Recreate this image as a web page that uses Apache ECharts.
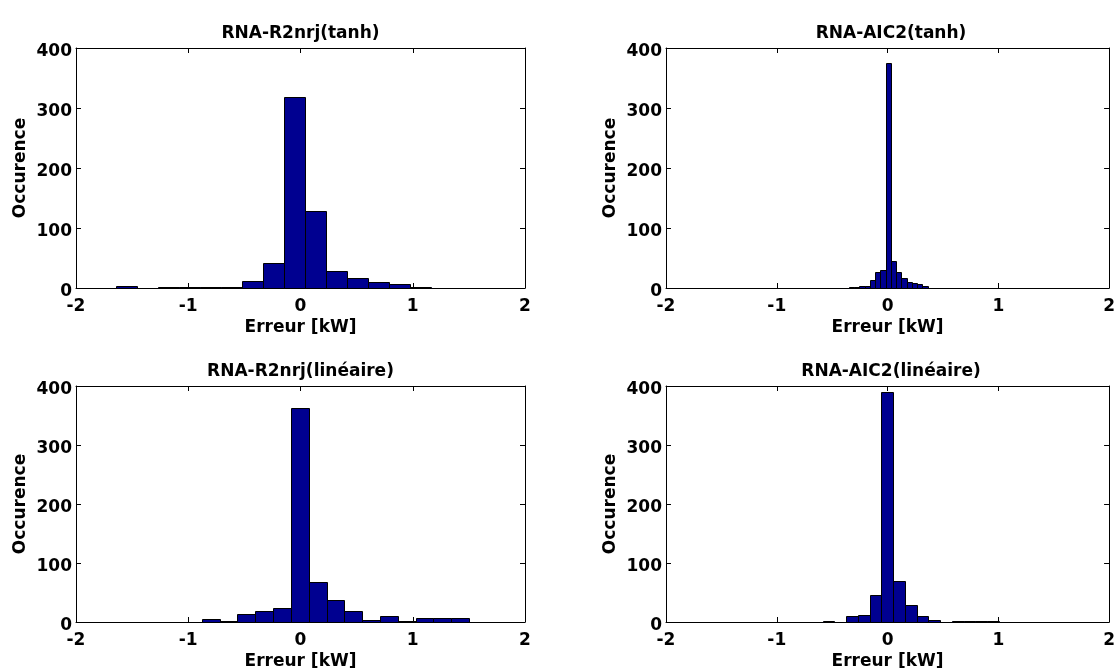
<!DOCTYPE html>
<html>
<head>
<meta charset="utf-8">
<script src="https://cdn.jsdelivr.net/npm/echarts@6/dist/echarts.min.js"></script>
<style>
html,body{margin:0;padding:0;background:#fff;}
#chart{width:1118px;height:671px;}
</style>
</head>
<body>
<div id="chart"></div>
<script>
// Panel titles
const titles = ['RNA-R2nrj(tanh)', 'RNA-AIC2(tanh)', 'RNA-R2nrj(linéaire)', 'RNA-AIC2(linéaire)'];
const xLabel = 'Erreur [kW]';
const yLabel = 'Occurence';
const xTicks = [-2, -1, 0, 1, 2];
const yTicks = [0, 100, 200, 300, 400];

// Histogram bin edges (kW) and counts
const edgesTL = [-1.644, -1.457, -1.270, -1.083, -0.896, -0.709, -0.522, -0.335, -0.148, 0.039, 0.226, 0.413, 0.600, 0.787, 0.974, 1.161];
const countsTL = [4, 0, 1, 1, 1, 2, 12, 42, 318, 128, 29, 17, 10, 7, 2];

const edgesTR = [-0.351, -0.303, -0.256, -0.208, -0.161, -0.113, -0.066, -0.018, 0.029, 0.077, 0.124, 0.172, 0.219, 0.267, 0.314, 0.362];
const countsTR = [2, 2, 4, 4, 14, 27, 30, 375, 45, 26, 16, 10, 8, 6, 4];

const edgesBL = [-0.880, -0.721, -0.562, -0.404, -0.245, -0.086, 0.073, 0.232, 0.390, 0.549, 0.708, 0.867, 1.025, 1.184, 1.343, 1.502];
const countsBL = [5, 2, 13, 18, 23, 363, 67, 38, 18, 3, 10, 2, 6, 6, 6];

const edgesBR = [-0.586, -0.480, -0.374, -0.268, -0.162, -0.056, 0.050, 0.156, 0.262, 0.368, 0.474, 0.580, 0.686, 0.792, 0.898, 1.004];
const countsBR = [2, 0, 10, 12, 45, 389, 69, 29, 10, 3, 0, 1, 1, 1, 2];

const panels = [
  {edges: edgesTL, counts: countsTL},
  {edges: edgesTR, counts: countsTR},
  {edges: edgesBL, counts: countsBL},
  {edges: edgesBR, counts: countsBR}
];

const FONT = 'DejaVu Sans';
const FS = 17;
const grids = [
  {left: 76, top: 48, width: 449, height: 240},
  {left: 666, top: 48, width: 450, height: 240},
  {left: 76, top: 386, width: 449, height: 240},
  {left: 666, top: 386, width: 450, height: 240}
];

const xMin = xTicks[0], xMax = xTicks[xTicks.length - 1];
const yMin = yTicks[0], yMax = yTicks[yTicks.length - 1];
const txt = {color: '#000', fontFamily: FONT, fontWeight: 'bold', fontSize: FS};
const line = {show: true, onZero: false, lineStyle: {color: '#000', width: 1}};
const tick = {show: true, inside: true, length: 5, lineStyle: {color: '#000'}};

const xAxes = [], yAxes = [], series = [], graphics = [];
grids.forEach((g, i) => {
  xAxes.push({
    type: 'value', gridIndex: i, min: xMin, max: xMax, interval: 1, position: 'bottom',
    axisLine: line, axisTick: tick,
    axisLabel: Object.assign({margin: 10}, txt), splitLine: {show: false},
    name: xLabel, nameLocation: 'middle', nameGap: 31, nameTextStyle: txt
  });
  xAxes.push({
    type: 'value', gridIndex: i, min: xMin, max: xMax, interval: 1, position: 'top',
    axisLine: line, axisTick: tick,
    axisLabel: {show: false}, splitLine: {show: false}
  });
  yAxes.push({
    type: 'value', gridIndex: i, min: yMin, max: yMax, interval: 100, position: 'left',
    axisLine: line, axisTick: tick,
    axisLabel: Object.assign({margin: 4, verticalAlign: 'top', lineHeight: 8}, txt), splitLine: {show: false},
    name: yLabel, nameLocation: 'middle', nameGap: 47, nameRotate: 90, nameTextStyle: txt
  });
  yAxes.push({
    type: 'value', gridIndex: i, min: yMin, max: yMax, interval: 100, position: 'right',
    axisLine: line, axisTick: tick,
    axisLabel: {show: false}, splitLine: {show: false}
  });
  const p = panels[i];
  series.push({
    type: 'custom',
    xAxisIndex: 2 * i, yAxisIndex: 2 * i,
    encode: {x: [0, 1], y: 2},
    data: p.counts.map((c, k) => [p.edges[k], p.edges[k + 1], c]),
    renderItem: function (params, api) {
      const a = api.coord([api.value(0), 0]);
      const b = api.coord([api.value(1), api.value(2)]);
      const x0 = Math.round(a[0]) + 0.5, x1 = Math.round(b[0]) + 0.5;
      const y0 = Math.round(a[1]) + 0.5, y1 = Math.round(b[1]) + 0.5;
      return {
        type: 'rect',
        shape: {x: x0, y: y1, width: x1 - x0, height: y0 - y1},
        style: {fill: '#000090', stroke: '#000', lineWidth: 1}
      };
    },
    z: 1
  });
  graphics.push({
    type: 'text', x: g.left + g.width / 2, y: g.top - 23,
    style: {text: titles[i], align: 'center', verticalAlign: 'top', fill: '#000',
            font: 'bold ' + FS + 'px "' + FONT + '"'}
  });
});

const chart = echarts.init(document.getElementById('chart'), null, {renderer: 'canvas'});
chart.setOption({
  animation: false,
  backgroundColor: '#fff',
  grid: grids.map(g => Object.assign({containLabel: false}, g)),
  xAxis: xAxes,
  yAxis: yAxes,
  series: series,
  graphic: graphics
});
</script>
</body>
</html>
